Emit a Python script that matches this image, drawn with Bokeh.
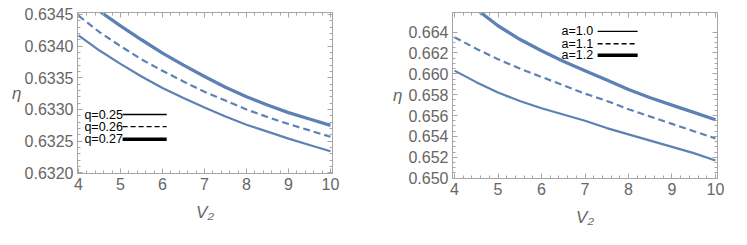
import numpy as np
from bokeh.plotting import figure
from bokeh.layouts import row
from bokeh.models import (Range1d, LinearAxis, FixedTicker, NumeralTickFormatter,
                          CustomJSTickFormatter)
from bokeh.core.properties import value
from bokeh.embed import file_html
from bokeh.resources import INLINE

# ---- data ----
V = [4.0, 4.5, 5.0, 5.5, 6.0, 6.5, 7.0, 7.5, 8.0, 8.5, 9.0, 9.5, 10.0]

eta_q025 = [0.63417, 0.63393, 0.63372, 0.63352, 0.63334, 0.63318, 0.63303,
            0.63289, 0.63276, 0.63265, 0.63254, 0.63244, 0.63234]
eta_q026 = [0.63448, 0.63422, 0.63400, 0.63379, 0.63361, 0.63344, 0.63328,
            0.63314, 0.63300, 0.63288, 0.63277, 0.63267, 0.63257]
eta_q027 = [0.63482, 0.63455, 0.63432, 0.63410, 0.63389, 0.63370, 0.63352,
            0.63335, 0.63320, 0.63307, 0.63295, 0.63285, 0.63275]

eta_a10 = [0.6603, 0.6592, 0.6582, 0.6574, 0.6567, 0.6561, 0.6555,
           0.6548, 0.6542, 0.6536, 0.6530, 0.6524, 0.6517]
eta_a11 = [0.6635, 0.6624, 0.6614, 0.6605, 0.6597, 0.6589, 0.6581,
           0.6574, 0.6566, 0.6559, 0.6552, 0.6545, 0.6538]
eta_a12 = [0.6683, 0.6662, 0.6646, 0.6633, 0.6622, 0.6612, 0.6603,
           0.6594, 0.6585, 0.6577, 0.6570, 0.6563, 0.6556]

q_labels = ["q=0.25", "q=0.26", "q=0.27"]
a_labels = ["a=1.0", "a=1.1", "a=1.2"]

x_ticks = [4, 5, 6, 7, 8, 9, 10]
left_y_ticks = [0.6320, 0.6325, 0.6330, 0.6335, 0.6340, 0.6345]
right_y_ticks = [0.650, 0.652, 0.654, 0.656, 0.658, 0.660, 0.662, 0.664]

# ---- styles ----
BLUE = "#5E81B5"
FRAME = "#a6a6a6"
TICKTXT = "#666666"
FONT = "Liberation Sans"
styles = [dict(line_width=2.2, line_dash="solid"),
          dict(line_width=2.2, line_dash="7 4"),
          dict(line_width=3.3, line_dash="solid")]
leg_styles = [dict(line_width=1.4, line_dash="solid"),
              dict(line_width=1.4, line_dash="5 3"),
              dict(line_width=3.6, line_dash="solid")]


def minor_of(ticks, n):
    out = []
    for a, b in zip(ticks[:-1], ticks[1:]):
        out += list(np.linspace(a, b, n + 1)[1:-1])
    return out


def style_axis(ax, ticker, fmt, labels=True):
    ax.ticker = ticker
    ax.formatter = fmt
    ax.axis_line_color = FRAME
    ax.major_tick_line_color = FRAME
    ax.minor_tick_line_color = FRAME
    ax.major_tick_in = 5
    ax.major_tick_out = 0
    ax.minor_tick_in = 3
    ax.minor_tick_out = 0
    ax.major_label_text_font = FONT
    ax.major_label_text_font_size = "16px"
    ax.major_label_text_color = TICKTXT
    ax.major_label_standoff = 4 if labels else 0


def make_panel(xr, yr, yt, ymin_n, yfmt, fw, fh, bl, br, bt, bb, ystand,
               series, labels, leg_x0, leg_x1, leg_x2, leg_y):
    p = figure(frame_width=fw, frame_height=fh, x_range=Range1d(*xr),
               y_range=Range1d(*yr), output_backend="svg",
               toolbar_location=None, min_border_left=bl,
               min_border_right=br, min_border_top=bt, min_border_bottom=bb)
    p.xgrid.visible = False
    p.ygrid.visible = False
    p.outline_line_color = FRAME
    p.background_fill_color = "white"
    p.border_fill_color = "white"
    xax = p.xaxis[0]
    yax = p.yaxis[0]
    xt = FixedTicker(ticks=x_ticks, minor_ticks=minor_of(x_ticks, 5))
    ytk = FixedTicker(ticks=yt, minor_ticks=minor_of(yt, ymin_n))
    style_axis(xax, xt, NumeralTickFormatter(format="0"))
    style_axis(yax, ytk, NumeralTickFormatter(format=yfmt))
    blank = CustomJSTickFormatter(code="return ''")
    top = LinearAxis()
    style_axis(top, FixedTicker(ticks=x_ticks, minor_ticks=minor_of(x_ticks, 5)),
               blank, labels=False)
    right = LinearAxis()
    style_axis(right, FixedTicker(ticks=yt, minor_ticks=minor_of(yt, ymin_n)),
               blank, labels=False)
    p.add_layout(top, "above")
    p.add_layout(right, "right")

    xax.axis_label = "V₂"
    yax.axis_label = "η"
    for ax in (xax, yax):
        ax.axis_label_text_font = FONT
        ax.axis_label_text_font_size = "17px"
        ax.axis_label_text_font_style = "italic"
        ax.axis_label_text_color = TICKTXT
    xax.axis_label_standoff = 10
    yax.axis_label_standoff = ystand
    yax.axis_label_orientation = "horizontal"

    for ys, st in zip(series, styles):
        p.line(V, ys, line_color=BLUE, line_cap="butt", **st)

    # legend: label text followed by a black line sample
    for lab, y, st in zip(labels, leg_y, leg_styles):
        p.text(x=[leg_x0], y=[y], text=[lab], text_font=value(FONT),
               text_font_size="12.5px", text_color="black",
               text_align="left", text_baseline="middle")
        p.line([leg_x1, leg_x2], [y, y], line_color="black", **st)
    return p


p1 = make_panel((3.976, 10.048), (0.63199, 0.63453), left_y_ticks, 5, "0.0000",
                255, 161, 77, 35, 12, 56, 0,
                [eta_q025, eta_q026, eta_q027], q_labels,
                4.14, 5.05, 6.10, [0.63292, 0.63273, 0.63253])
p2 = make_panel((3.954, 10.046), (0.64997, 0.66587), right_y_ticks, 4, "0.000",
                265, 166, 85, 22, 7, 56, 3,
                [eta_a10, eta_a11, eta_a12], a_labels,
                6.46, 7.29, 8.21, [0.66406, 0.66288, 0.66177])

layout = row(p1, p2)
open("out.html", "w").write(file_html(layout, INLINE))
